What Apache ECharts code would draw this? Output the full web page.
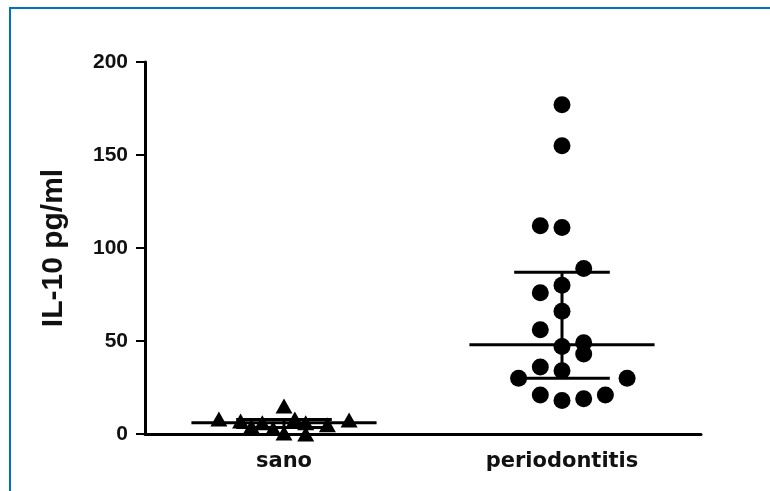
<!DOCTYPE html>
<html>
<head>
<meta charset="utf-8">
<script src="https://cdn.jsdelivr.net/npm/echarts@6/dist/echarts.min.js"></script>
<style>
html,body{margin:0;padding:0;background:#fff;}
#c{width:770px;height:491px;}
</style>
</head>
<body>
<div id="c"></div>
<script>
// ---- data ----
var categories = ['sano', 'periodontitis'];
var yTicks = [0, 50, 100, 150, 200];
var yAxisTitle = 'IL-10 pg/ml';

// sano (triangles): values and swarm column index
var sanoValues = [15, 8, 7.5, 7, 8, 6, 6, 5, 4, 3, 0.5, 0];
var sanoCols   = [0, -3, 3, -2, 0.5, -1, 1, 2, -1.5, -0.5, 0, 1];

// periodontitis (circles): values and swarm column index
var perioValues = [177, 155, 112, 111, 89, 80, 76, 66, 56, 47, 49, 43, 36, 34, 30, 30, 21, 18, 19, 21];
var perioCols   = [0, 0, -1, 0, 1, 0, -1, 0, -1, 0, 1, 1, -1, 0, -2, 3, -1, 0, 1, 2];

// summary lines: median, lower quartile, upper quartile
var medians = [6, 48];
var q1s = [3.5, 30];
var q3s = [7.8, 87];

// ---- chart ----
var COL_STEP = 21.7;
function buildPoints(catIdx, vals, cols) {
  return vals.map(function (v, i) {
    return { value: [catIdx, v], symbolOffset: [cols[i] * COL_STEP, 0] };
  });
}
var summaryData = categories.map(function (c, i) { return [i, medians[i], q1s[i], q3s[i]]; });

var chart = echarts.init(document.getElementById('c'));
chart.setOption({
  animation: false,
  backgroundColor: '#fff',
  grid: { left: 145, right: 69, top: 62, bottom: 57, containLabel: false },
  graphic: [{
    type: 'rect', silent: true, z: 100,
    shape: { x: 10, y: 8, width: 900, height: 700 },
    style: { fill: 'none', stroke: '#0070C0', lineWidth: 2 }
  }],
  xAxis: {
    type: 'category',
    data: categories,
    axisLine: { lineStyle: { color: '#000', width: 3 } },
    axisTick: { alignWithLabel: true, length: 7, lineStyle: { color: '#000', width: 2 } },
    axisLabel: { color: '#111', fontFamily: 'DejaVu Sans', fontWeight: 'bold', fontSize: 21, margin: 17 },
    splitLine: { show: false }
  },
  yAxis: {
    type: 'value',
    min: yTicks[0], max: yTicks[yTicks.length - 1], interval: yTicks[1] - yTicks[0],
    name: yAxisTitle,
    nameLocation: 'middle',
    nameGap: 76,
    nameTextStyle: { color: '#111', fontFamily: 'Liberation Sans', fontWeight: 'bold', fontSize: 30 },
    axisLine: { show: true, lineStyle: { color: '#000', width: 3 } },
    axisTick: { show: true, length: 9, lineStyle: { color: '#000', width: 2 } },
    axisLabel: { color: '#111', fontFamily: 'Liberation Sans', fontWeight: 'bold', fontSize: 21, margin: 17 },
    splitLine: { show: false }
  },
  series: [
    {
      type: 'scatter',
      symbol: 'triangle',
      symbolSize: [17, 15],
      itemStyle: { color: '#000', opacity: 1 },
      data: buildPoints(0, sanoValues, sanoCols),
      z: 2
    },
    {
      type: 'scatter',
      symbol: 'circle',
      symbolSize: 17,
      itemStyle: { color: '#000', opacity: 1 },
      data: buildPoints(1, perioValues, perioCols),
      z: 2
    },
    {
      type: 'custom',
      z: 3,
      data: summaryData,
      renderItem: function (params, api) {
        var band = api.size([1, 0])[0];
        var m = api.coord([api.value(0), api.value(1)]);
        var lo = api.coord([api.value(0), api.value(2)]);
        var hi = api.coord([api.value(0), api.value(3)]);
        var x = m[0];
        var mw = band * 0.333, qw = band * 0.172;
        var st = { stroke: '#000', lineWidth: 3 };
        return {
          type: 'group',
          children: [
            { type: 'line', shape: { x1: x - mw, y1: m[1], x2: x + mw, y2: m[1] }, style: st },
            { type: 'line', shape: { x1: x - qw, y1: lo[1], x2: x + qw, y2: lo[1] }, style: st },
            { type: 'line', shape: { x1: x - qw, y1: hi[1], x2: x + qw, y2: hi[1] }, style: st },
            { type: 'line', shape: { x1: x, y1: lo[1], x2: x, y2: hi[1] }, style: st }
          ]
        };
      }
    }
  ]
});
</script>
</body>
</html>
